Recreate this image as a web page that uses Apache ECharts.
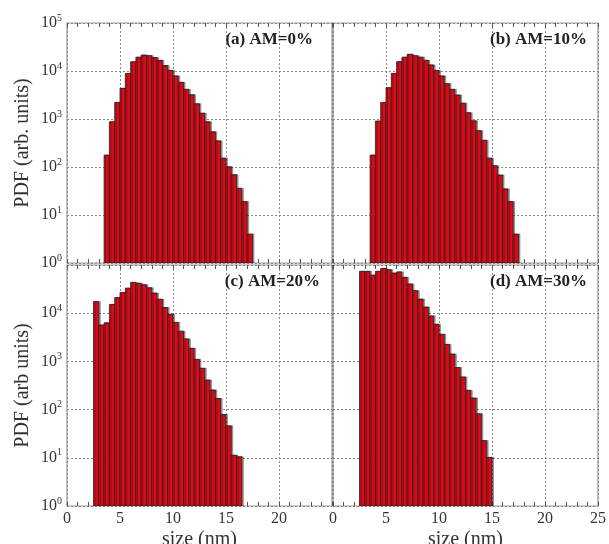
<!DOCTYPE html>
<html>
<head>
<meta charset="utf-8">
<script src="https://cdn.jsdelivr.net/npm/echarts@6/dist/echarts.min.js"></script>
<style>
  html, body { margin: 0; padding: 0; background: #fff; }
  #chart { width: 609px; height: 544px; }
</style>
</head>
<body>
<div id="chart"></div>
<script>
// histogram bins are 0.5 nm wide; each panel starts at its own left edge
const binWidth = 0.5;

const startA = 3.5;
const countsA = [177, 874, 2220, 4350, 8900, 15600, 19400, 21500, 20900, 19000, 16700, 13000, 10300, 7900,
    5800, 4150, 3200, 2080, 1320, 874, 540, 350, 153, 101, 69, 36, 19, 4];

const startB = 3.5;
const countsB = [177, 905, 2220, 4500, 8900, 15600, 19400, 22300, 20900, 19400, 16700, 13400, 10300, 7900,
    5450, 4150, 3160, 2140, 1350, 915, 570, 360, 153, 106, 68, 35, 19, 4];

const startC = 2.5;
const countsC = [17400, 5700, 6300, 15200, 21200, 26900, 33100, 43600, 41800, 38900, 33700, 26100, 19500, 13100,
    9500, 6450, 4230, 2930, 1870, 1100, 720, 410, 255, 170, 79, 46, 11.3, 10.5];

const startD = 2.5;
const countsD = [74000, 74000, 61500, 74000, 85000, 80000, 68000, 72000, 55500, 40500, 29400, 19600, 13400, 8800,
    5900, 3650, 2250, 1420, 745, 476, 251, 174, 82, 22.7, 10.2];

const panelTitles = ["(a) AM=0%", "(b) AM=10%", "(c) AM=20%", "(d) AM=30%"];
const xTicks = [0, 5, 10, 15, 20, 25];
const yTicks = [1, 10, 100, 1000, 10000, 100000];

const serif = "Liberation Serif, Times New Roman, serif";
const frame = "#9a9a9a";

const chart = echarts.init(document.getElementById("chart"), null, { renderer: "canvas" });

function bins(start, counts) {
    return counts.map((c, i) => [start + i * binWidth, start + (i + 1) * binWidth, c]);
}

function renderBar(params, api) {
    const top = api.coord([api.value(0), api.value(2)]);
    const bottom = api.coord([api.value(1), 1]);
    return {
        type: "rect",
        shape: { x: top[0], y: top[1], width: bottom[0] - top[0], height: bottom[1] - top[1] },
        style: {
            fill: "#d80b18",
            stroke: "#222",
            lineWidth: 0.8,
            shadowColor: "rgba(0,0,0,0.35)",
            shadowOffsetX: 1.5,
            shadowOffsetY: 0,
        },
    };
}

const grids = [
    { left: 67, top: 23, width: 265, height: 240 },
    { left: 333, top: 23, width: 265, height: 240 },
    { left: 67, top: 265, width: 265, height: 241 },
    { left: 333, top: 265, width: 265, height: 241 },
].map((g) => Object.assign({
    show: true,
    borderColor: frame,
    borderWidth: 1.2,
    backgroundColor: "#fff",
    outerBoundsMode: "none",
    containLabel: false,
}, g));

function xAxisFor(i, bottomRow, position) {
    const showLabel = bottomRow && position === "bottom";
    return {
        type: "value",
        gridIndex: i,
        position: position,
        min: xTicks[0],
        max: xTicks[xTicks.length - 1],
        interval: 5,
        axisLine: { show: false },
        axisTick: { show: true, inside: true, length: 4, lineStyle: { color: "#555" } },
        minorTick: { show: true, splitNumber: 5, length: 4, lineStyle: { color: "#555" } },
        splitLine: { show: position === "bottom", lineStyle: { type: [2, 2], color: "#888", width: 1 } },
        axisLabel: {
            show: showLabel,
            fontFamily: serif,
            fontSize: 16,
            color: "#333",
            margin: 5,
            showMinLabel: i === 2 || i === 3,
            showMaxLabel: i === 3,
        },
        name: showLabel ? "size (nm)" : "",
        nameLocation: "middle",
        nameGap: 24,
        nameTextStyle: { fontFamily: serif, fontSize: 20, color: "#333" },
    };
}

function yAxisFor(i) {
    const leftCol = i === 0 || i === 2;
    return {
        type: "log",
        logBase: 10,
        gridIndex: i,
        min: yTicks[0],
        max: yTicks[yTicks.length - 1],
        splitNumber: 5,
        axisLine: { show: false },
        axisTick: { show: false },
        splitLine: { show: true, lineStyle: { type: [2, 2], color: "#888", width: 1 } },
        axisLabel: {
            show: leftCol,
            showMaxLabel: i === 0,
            margin: 5,
            formatter: (v) => "{b|10}{s|" + Math.round(Math.log10(v)) + "}",
            rich: {
                b: { fontFamily: serif, fontSize: 16, color: "#333" },
                s: { fontFamily: serif, fontSize: 10, color: "#333", padding: [0, 0, 10, 0] },
            },
        },
        name: leftCol ? (i === 0 ? "PDF (arb. units)" : "PDF (arb units)") : "",
        nameLocation: "middle",
        nameGap: 34,
        nameTextStyle: { fontFamily: serif, fontSize: 20, color: "#333" },
    };
}

const xAxes = [];
const yAxes = [];
for (let i = 0; i < 4; i++) {
    xAxes.push(xAxisFor(i, i >= 2, "bottom"));
    yAxes.push(yAxisFor(i));
}
for (let i = 0; i < 4; i++) {
    xAxes.push(xAxisFor(i, i >= 2, "top"));
}

const panelData = [bins(startA, countsA), bins(startB, countsB), bins(startC, countsC), bins(startD, countsD)];

const series = panelData.map((d, i) => ({
    type: "custom",
    xAxisIndex: i,
    yAxisIndex: i,
    renderItem: renderBar,
    encode: { x: [0, 1], y: 2 },
    data: d,
    clip: true,
}));

const titlePos = [
    { right: 296, top: 31 },
    { right: 22, top: 31 },
    { right: 289, top: 273 },
    { right: 22, top: 273 },
];

chart.setOption({
    animation: false,
    grid: grids,
    xAxis: xAxes,
    yAxis: yAxes,
    title: panelTitles.map((t, i) => Object.assign({
        text: t,
        textStyle: { fontFamily: serif, fontSize: 17, fontWeight: "bold", color: "#222" },
        padding: 0,
    }, titlePos[i])),
    series: series,
});
</script>
</body>
</html>
